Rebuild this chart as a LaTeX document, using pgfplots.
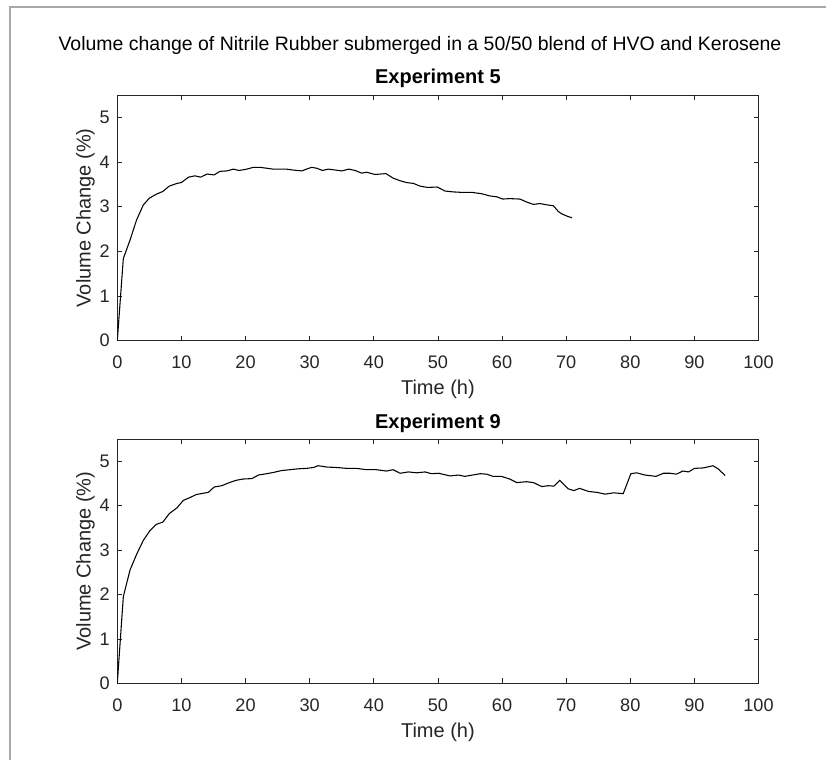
\documentclass[border=0pt]{standalone}
\usepackage{fontspec}
\setmainfont{Liberation Sans}
\usepackage{pgfplots}
\pgfplotsset{compat=1.18}
\definecolor{axgray}{HTML}{262626}
\definecolor{framegray}{HTML}{A8A8A8}

\pgfplotsset{
 expstyle/.style={
  scale only axis, width=480.9pt,
  xmin=0,xmax=100,ymin=0,ymax=5.5,
  xtick={0,10,...,100}, ytick={0,1,...,5},
  tick align=inside, major tick length=3.75pt,
  axis line style={axgray, line width=0.6pt},
  every tick/.style={axgray, line width=0.6pt},
  /pgf/number format/assume math mode=true,
  every tick label/.append style={font=\fontsize{13.6pt}{16pt}\selectfont, text=axgray},
  xticklabel style={anchor=north, inner sep=0pt, yshift=-11.5pt},
  yticklabel style={anchor=east, inner sep=0pt, xshift=-5.5pt},
  xlabel={Time (h)},
  ylabel={Volume Change (\%)},
  xlabel style={at={(axis description cs:0.5,0)}, anchor=north, inner sep=0pt, yshift=-29.5pt, font=\fontsize{15pt}{18pt}\selectfont, text=axgray},
  ylabel style={at={(axis description cs:0,0.5)}, anchor=north, inner sep=0pt, yshift=31pt, font=\fontsize{15pt}{18pt}\selectfont, text=axgray},
  every axis title shift=0pt,
  title style={at={(axis description cs:0.5,1)}, anchor=base, inner sep=0pt, yshift=8.25pt, font=\bfseries\fontsize{15pt}{18pt}\selectfont},
 }
}

\begin{document}
\begin{tikzpicture}
\useasboundingbox (0,0) rectangle (619.5pt,570pt);
\fill[white] (0,0) rectangle (619.5pt,570pt);
\draw[framegray, line width=1.5pt] (7.5pt,0) -- (7.5pt,564.5pt) -- (619.5pt,564.5pt);
\node[anchor=base, inner sep=0pt, font=\fontsize{14.6pt}{17pt}\selectfont] at (315pt,532pt)
  {Volume change of Nitrile Rubber submerged in a 50/50 blend of HVO and Kerosene};

\begin{axis}[expstyle, height=184.3pt, at={(87.975pt,314.475pt)}, anchor=south west,
  title={Experiment 5}]
\addplot[black, line width=0.8pt] coordinates {
(0,0) (0.94,1.84) (1.98,2.25) (3.0,2.70) (4.06,3.04) (5.0,3.19) (6.1,3.28) (7.1,3.34) (8.1,3.46) (9.3,3.52) (10.0,3.54) (11.1,3.66) (12.1,3.69) (13.0,3.66) (14.0,3.73) (15.1,3.71) (16.0,3.79) (17.1,3.80) (18.1,3.84) (19.0,3.81) (20.2,3.84) (21.2,3.88) (22.3,3.88) (23.3,3.86) (24.3,3.84) (25.4,3.84) (26.4,3.84) (27.4,3.82) (28.8,3.80) (29.5,3.84) (30.3,3.88) (31.1,3.86) (32.0,3.81) (32.9,3.84) (34.0,3.82) (35.0,3.80) (36.1,3.84) (37.1,3.81) (38.1,3.75) (38.9,3.77) (40.2,3.72) (41.0,3.73) (41.9,3.74) (43.0,3.64) (44.1,3.58) (45.1,3.54) (46.2,3.52) (47.2,3.46) (48.4,3.43) (49.9,3.44) (51.1,3.35) (52.4,3.33) (53.7,3.32) (55.3,3.32) (56.8,3.29) (58.1,3.24) (59.2,3.22) (60.1,3.17) (61.2,3.18) (62.8,3.17) (63.9,3.10) (64.9,3.05) (65.9,3.07) (67.0,3.04) (68.0,3.02) (68.8,2.89) (69.3,2.84) (70.1,2.79) (70.9,2.75)
};
\end{axis}

\begin{axis}[expstyle, height=183.2pt, at={(87.975pt,57.5pt)}, anchor=south west,
  title={Experiment 9}]
\addplot[black, line width=0.8pt] coordinates {
(0,0) (0.94,1.95) (1.98,2.55) (3.0,2.90) (4.06,3.22) (5.1,3.44) (6.1,3.58) (7.1,3.63) (8.1,3.82) (9.3,3.95) (10.3,4.12) (11.3,4.18) (12.3,4.25) (13.4,4.28) (14.2,4.30) (15.1,4.42) (16.3,4.45) (17.3,4.51) (18.5,4.57) (19.6,4.60) (21.0,4.61) (22.0,4.69) (23.3,4.72) (24.4,4.75) (25.6,4.79) (26.9,4.81) (28.2,4.83) (29.5,4.84) (30.6,4.86) (31.3,4.90) (32.7,4.87) (34.2,4.86) (35.8,4.84) (37.3,4.84) (38.9,4.81) (40.4,4.81) (42.0,4.78) (43.0,4.81) (44.1,4.73) (45.4,4.76) (46.7,4.74) (48.0,4.76) (49.0,4.72) (50.1,4.73) (51.9,4.67) (53.2,4.69) (54.2,4.66) (56.6,4.72) (57.6,4.71) (58.6,4.66) (59.9,4.66) (61.2,4.60) (62.3,4.52) (63.8,4.54) (64.9,4.52) (66.2,4.43) (67.2,4.45) (68.1,4.44) (69.0,4.57) (70.3,4.38) (71.2,4.34) (72.1,4.39) (73.5,4.32) (74.8,4.30) (76.1,4.26) (77.4,4.29) (78.9,4.27) (80.1,4.72) (81.0,4.74) (82.3,4.69) (84.0,4.66) (85.2,4.73) (86.2,4.73) (87.2,4.71) (88.2,4.78) (89.1,4.76) (90.0,4.84) (91.4,4.85) (92.9,4.90) (93.7,4.83) (94.8,4.68)
};
\end{axis}
\end{tikzpicture}
\end{document}
